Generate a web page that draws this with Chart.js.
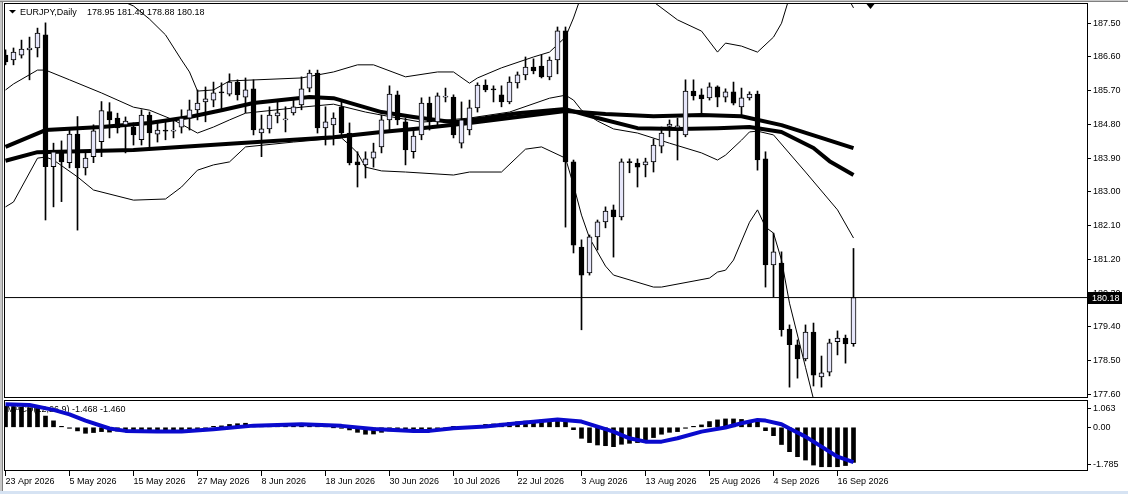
<!DOCTYPE html>
<html>
<head>
<meta charset="utf-8">
<script src="https://cdn.jsdelivr.net/npm/chart.js@4.4.1/dist/chart.umd.min.js"></script>
<style>
  html, body { margin: 0; padding: 0; background: #fff; }
  body { width: 1128px; height: 494px; position: relative; overflow: hidden; }
  #main { position: absolute; left: 0; top: 0; }
  #macd { position: absolute; left: 0; top: 400px; }
  .edgeL { position: absolute; left: 0; top: 0; width: 2px; height: 491px; background: #c8c8c8; border-right: 1px solid #808080; }
  .edgeT { position: absolute; left: 0; top: 0; width: 1128px; height: 1px; background: #c8c8c8; border-bottom: 1px solid #808080; }
  .strip { position: absolute; left: 0; top: 491px; width: 1128px; height: 3px; background: #d6e3f3; }
</style>
</head>
<body>
<canvas id="main" width="1128" height="400"></canvas>
<canvas id="macd" width="1128" height="94"></canvas>
<div class="edgeL"></div><div class="edgeT"></div><div class="strip"></div>
<script>
// EURJPY daily bars, index 0 = 23 Apr 2026
var opens = [186.65,186.52,186.65,186.79,186.84,187.19,183.67,184.07,183.78,184.54,
  183.64,183.94,184.34,185.14,184.97,184.79,184.73,184.39,185.05,184.54,
  184.63,184.62,184.73,184.97,185.19,185.40,185.45,185.67,185.61,185.93,
  185.53,185.75,184.57,184.68,185.03,184.92,185.11,185.32,185.77,186.17,
  184.71,184.79,185.27,184.57,183.80,183.72,183.90,184.20,184.92,185.59,
  184.87,184.07,184.52,185.37,184.87,185.53,185.53,184.30,184.65,185.24,
  185.85,185.75,185.59,185.40,185.91,186.12,186.33,186.36,186.07,186.52,
  187.30,183.80,181.53,180.84,181.80,182.20,182.52,182.33,183.81,183.77,
  183.72,183.80,184.22,184.75,184.71,184.52,185.69,185.59,185.51,185.80,
  185.53,185.67,185.27,185.51,185.61,183.88,181.05,181.10,179.34,178.92,
  178.54,179.26,178.06,178.19,179.00,179.10,178.95];
var highs = [186.79,186.84,187.05,187.13,187.37,187.51,184.30,184.36,184.70,185.01,
  184.04,184.79,185.41,185.38,185.10,185.00,184.84,185.19,185.13,184.84,
  184.92,184.92,185.19,185.45,185.72,185.80,185.93,185.91,186.15,185.99,
  186.04,185.99,185.05,185.27,185.40,185.27,185.45,186.07,186.25,186.25,
  185.27,185.11,185.40,184.84,184.07,184.07,184.30,185.05,185.83,185.69,
  184.97,184.71,185.51,185.53,185.64,185.77,185.59,185.40,185.45,185.91,
  185.99,185.83,185.83,186.07,186.20,186.60,186.55,186.65,186.60,187.40,
  187.40,183.85,181.72,181.85,182.25,182.60,182.65,183.88,183.88,183.88,
  183.90,184.41,184.73,184.92,184.97,185.99,185.99,185.75,185.91,185.83,
  185.75,185.93,185.77,185.67,185.69,184.07,181.90,181.40,179.45,179.05,
  179.45,179.50,178.62,179.07,179.29,179.18,181.49];
var lows = [186.39,186.39,186.57,185.99,186.60,182.25,182.60,182.74,183.64,181.98,
  183.45,183.78,183.94,184.44,184.57,184.04,184.25,184.25,184.17,184.33,
  184.39,184.44,184.57,184.65,184.92,184.87,185.27,185.19,185.56,185.45,
  185.11,184.52,183.94,184.57,184.84,184.60,185.05,185.19,185.67,184.57,
  184.25,184.25,184.52,183.72,183.13,183.37,183.66,184.04,184.65,184.79,
  183.72,183.90,184.39,184.65,184.79,185.40,184.44,184.17,184.52,185.13,
  185.67,185.40,185.27,185.35,185.77,185.99,186.15,186.04,185.99,186.15,
  182.06,181.37,179.32,180.78,181.45,182.04,181.26,182.25,183.51,183.13,
  183.40,183.53,184.04,184.47,183.85,184.47,185.45,185.11,185.45,185.27,
  185.40,185.32,185.05,185.45,183.58,180.46,180.20,179.15,177.79,178.03,
  178.49,177.82,177.79,178.09,178.65,178.43,178.88];
var closes = [186.47,186.73,186.81,186.84,187.24,183.67,184.07,183.80,184.54,183.64,
  183.90,184.63,185.17,184.92,184.71,184.89,184.52,185.05,184.57,184.65,
  184.62,184.63,184.97,185.19,185.37,185.48,185.64,185.64,185.93,185.59,
  185.72,184.65,184.68,185.05,185.11,184.94,185.27,185.75,186.17,184.71,
  184.87,184.97,184.57,183.77,183.72,183.88,184.07,184.92,185.61,184.92,
  184.12,184.49,185.37,184.87,185.56,185.54,184.52,184.92,185.24,185.85,
  185.72,185.72,185.40,185.93,186.12,186.33,186.23,186.07,186.52,187.30,
  183.80,181.58,180.78,181.80,182.20,182.49,182.33,183.80,183.78,183.66,
  183.80,184.25,184.57,184.81,184.76,185.69,185.56,185.48,185.80,185.53,
  185.67,185.37,185.51,185.61,183.85,181.05,181.40,179.32,178.92,178.54,
  179.26,178.11,178.17,178.97,179.10,178.94,180.18];

// moving averages and bollinger bands, [bar index, price]
var maFast = [[0,184.20],[5,184.65],[12,184.73],[18,184.84],[23,185.00],[27,185.18],[31,185.37],
  [38,185.53],[41,185.50],[47,185.13],[51,185.00],[56,184.86],[60,184.97],[64,185.10],[70,185.21],
  [74,184.97],[79,184.70],[84,184.68],[89,184.70],[93,184.73],[97,184.60],[101,184.17],[103,183.82],[106,183.45]];
var maSlow = [[0,183.83],[4,184.06],[16,184.12],[29,184.30],[41,184.46],[47,184.60],[52,184.70],
  [58,184.84],[64,185.00],[70,185.16],[75,185.08],[81,185.02],[87,185.05],[92,185.02],[97,184.78],
  [102,184.44],[106,184.17]];
var bbUpper = [[0,188.84],[4,188.60],[8,188.70],[12,188.33],[16,187.96],[18,187.61],[20,187.19],[22,186.52],
  [23,186.20],[24,185.69],[26,185.72],[28,185.96],[37,186.04],[41,186.20],[44,186.39],[46,186.39],
  [50,186.07],[54,186.20],[56,186.20],[58,185.90],[59,186.04],[62,186.31],[66,186.60],[68,186.73],
  [70,187.13],[71,187.64],[72,188.25],[75,188.45],[77,188.55],[79,188.45],[81,188.07],[84,187.59],
  [87,187.29],[89,186.73],[90,186.97],[92,186.89],[94,186.73],[96,187.13],[97,187.50],[98,188.20],
  [100,188.74],[101,189.13],[102,189.10],[104,188.74],[105,188.30],[106,187.91]];
var bbMiddle = [[0,185.72],[1,185.88],[4,186.25],[5,186.25],[8,185.99],[12,185.64],[16,185.26],[18,185.18],
  [21,184.92],[24,184.57],[26,184.73],[28,184.92],[30,185.10],[37,185.26],[41,185.34],[45,185.13],
  [47,185.05],[52,184.86],[58,184.97],[63,185.13],[68,185.50],[70,185.58],[71,185.45],[72,185.18],
  [74,184.89],[76,184.68],[79,184.57],[83,184.30],[87,184.04],[89,183.85],[90,183.98],[92,184.38],
  [93,184.60],[94,184.62],[96,184.52],[100,183.53],[104,182.52],[106,181.77]];
var bbLower = [[0,182.60],[1,182.73],[4,183.90],[5,183.93],[6,183.85],[9,183.40],[11,183.05],[16,182.78],
  [20,182.81],[22,183.13],[24,183.58],[26,183.72],[28,183.80],[30,184.20],[36,184.33],[42,184.44],
  [43,184.25],[44,184.04],[45,183.66],[47,183.56],[50,183.53],[56,183.45],[58,183.53],[62,183.53],
  [65,184.14],[67,184.20],[70,183.90],[71,183.18],[72,182.38],[73,181.77],[75,181.02],[76,180.78],
  [81,180.46],[82,180.46],[88,180.70],[89,180.86],[90,180.91],[91,181.18],[93,182.19],[94,182.52],
  [95,182.06],[96,181.90],[97,181.18],[98,180.03],[100,178.32],[101,177.47],[102,177.00],[104,176.30],[106,175.63]];

// MACD(12,26,9)
var macdMain = [0.88,0.87,0.85,0.82,0.79,0.47,0.27,0.03,-0.03,-0.15,-0.25,-0.22,-0.18,-0.20,-0.16,
  -0.13,-0.12,-0.12,-0.11,-0.11,-0.11,-0.10,-0.10,-0.09,-0.07,
  -0.03,0.01,0.06,0.12,0.15,0.17,0.10,0.06,0.05,0.04,0.05,
  0.03,0.04,0.05,0.03,0.01,0.00,-0.02,
  -0.11,-0.21,-0.29,-0.28,-0.21,-0.15,
  -0.11,-0.12,-0.12,-0.11,-0.10,-0.08,-0.03,
  0.02,0.03,0.04,0.05,
  0.12,0.14,0.17,0.20,0.23,0.26,0.28,0.30,0.32,0.35,
  0.31,-0.10,-0.46,-0.64,-0.74,-0.77,-0.81,-0.71,-0.67,-0.64,-0.57,-0.43,-0.29,-0.21,-0.18,
  -0.01,0.02,0.10,0.24,0.31,0.35,0.35,0.33,0.29,0.24,
  -0.14,-0.35,-0.72,-1.02,-1.23,-1.37,-1.58,-1.65,-1.65,-1.65,-1.60,-1.468];
var macdSignal = [[0,0.96],[3,0.93],[6,0.73],[8,0.54],[10,0.28],[13,-0.05],[15,-0.15],[19,-0.18],[22,-0.18],
  [26,-0.08],[31,0.07],[37,0.13],[42,0.06],[46,-0.07],[51,-0.15],[53,-0.15],[56,-0.04],[60,0.03],
  [64,0.17],[69,0.33],[72,0.24],[74,0.03],[76,-0.18],[78,-0.46],[80,-0.60],[82,-0.60],[84,-0.46],
  [87,-0.18],[90,-0.01],[92,0.17],[94,0.31],[95,0.28],[97,0.13],[98,-0.05],[100,-0.39],[102,-0.81],
  [104,-1.23],[106,-1.46]];

// axis labels
var dateLabels = ['23 Apr 2026','5 May 2026','15 May 2026','27 May 2026','8 Jun 2026','18 Jun 2026',
  '30 Jun 2026','10 Jul 2026','22 Jul 2026','3 Aug 2026','13 Aug 2026','25 Aug 2026','4 Sep 2026','16 Sep 2026'];
var dateTickIdx = [0,8,16,24,32,40,48,56,64,72,80,88,96,104];
var priceTicks = [177.60,178.50,179.40,180.30,181.20,182.10,183.00,183.90,184.80,185.70,186.60,187.50];
var macdTickText = ['1.063','0.00','-1.785'];
var macdTickAt = [0.795, 0, -1.536];   // MT4 draws the max/min labels inset from the panel edges

var symbolTitle = 'EURJPY,Daily';
var last = closes.length - 1;
var xMin = -0.1875, xMax = 135.3125;   // 8px per bar, empty shift area on the right
var shiftIdx = 108;

var FONT = '"Liberation Sans", Arial, sans-serif';
Chart.defaults.font.family = FONT;
Chart.defaults.font.size = 9;
Chart.defaults.color = '#000';

function pts(arr) { return arr.map(function (p) { return { x: p[0], y: p[1] }; }); }
function lineSet(arr, width, color, order) {
  return { type: 'line', data: pts(arr), borderColor: color, borderWidth: width, pointRadius: 0,
    fill: false, tension: 0, borderJoinStyle: 'round', order: order };
}

var frame = {
  id: 'frame',
  afterDraw: function (chart) {
    var a = chart.chartArea, c = chart.ctx;
    c.save();
    c.strokeStyle = '#000'; c.lineWidth = 1;
    c.strokeRect(a.left + 0.5, a.top + 0.5, a.right - a.left - 1, a.bottom - a.top - 1);
    c.restore();
  }
};

var mainDeco = {
  id: 'mainDeco',
  beforeDatasetsDraw: function (chart) {
    var c = chart.ctx;
    c.save();
    c.fillStyle = '#000';
    c.beginPath(); c.moveTo(9, 10); c.lineTo(16, 10); c.lineTo(12.5, 13.5); c.closePath(); c.fill();
    c.font = '9px ' + FONT; c.textBaseline = 'middle';
    c.fillText(symbolTitle, 20, 12.5);
    c.fillText([opens[last], highs[last], lows[last], closes[last]].map(function (v) { return v.toFixed(2); }).join(' '), 87, 12.5);
    c.restore();
  },
  afterDraw: function (chart) {
    var c = chart.ctx, a = chart.chartArea;
    var y = Math.round(chart.scales.y.getPixelForValue(closes[last]));
    c.save();
    c.fillStyle = '#000';
    c.fillRect(a.right, y - 6, 34, 12);
    c.fillStyle = '#fff'; c.font = '9px ' + FONT; c.textBaseline = 'middle';
    c.fillText(closes[last].toFixed(2), a.right + 4, y + 0.5);
    var sx = Math.round(chart.scales.x.getPixelForValue(shiftIdx)) + 0.5;
    c.fillStyle = '#000';
    c.beginPath(); c.moveTo(sx - 4, a.top + 1); c.lineTo(sx + 4, a.top + 1); c.lineTo(sx, a.top + 6); c.closePath(); c.fill();
    c.restore();
  }
};

var macdDeco = {
  id: 'macdDeco',
  beforeDatasetsDraw: function (chart) {
    var c = chart.ctx;
    c.save();
    c.fillStyle = '#000'; c.font = '9px ' + FONT; c.textBaseline = 'middle';
    c.fillText('MACD(12,26,9) ' + macdMain[last].toFixed(3) + ' ' + macdSignal[macdSignal.length - 1][1].toFixed(3), 7, 9.5);
    c.restore();
  }
};

var bullFill = '#e6e6fa';

new Chart(document.getElementById('main').getContext('2d'), {
  type: 'bar',
  data: {
    datasets: [
      { label: 'body', data: opens.map(function (o, i) { return { x: i, y: [o, closes[i]] }; }),
        backgroundColor: opens.map(function (o, i) { return closes[i] >= o ? bullFill : '#000'; }),
        borderColor: '#000', borderWidth: 1, borderSkipped: false, barThickness: 5, minBarLength: 1,
        grouped: false, order: 0 },
      { label: 'wick', data: lows.map(function (l, i) { return { x: i, y: [l, highs[i]] }; }),
        backgroundColor: '#000', borderWidth: 0, barThickness: 1, grouped: false, order: 1 },
      lineSet(maFast, 4, '#000', 2),
      lineSet(maSlow, 4, '#000', 2),
      lineSet(bbUpper, 1, '#000', 3),
      lineSet(bbMiddle, 1, '#000', 3),
      lineSet(bbLower, 1, '#000', 3),
      { type: 'line', data: [{ x: xMin, y: closes[last] }, { x: xMax, y: closes[last] }],
        borderColor: '#000', borderWidth: 1, pointRadius: 0, order: 4 }
    ]
  },
  options: {
    responsive: false, animation: false, devicePixelRatio: 1, events: [],
    layout: { padding: { left: 4, top: 3, right: 0, bottom: 2 } },
    plugins: { legend: { display: false }, tooltip: { enabled: false } },
    scales: {
      x: { type: 'linear', min: xMin, max: xMax, display: false, offset: false, grid: { offset: false } },
      y: { type: 'linear', position: 'right', min: 177.50, max: 188.04, beginAtZero: false,
        afterBuildTicks: function (s) { s.ticks = priceTicks.map(function (v) { return { value: v }; }); },
        afterFit: function (s) { s.width = 40; s.paddingTop = 0; s.paddingBottom = 0; },
        grid: { drawOnChartArea: false, drawTicks: true, tickLength: 3, color: '#000' },
        border: { display: false },
        ticks: { padding: 2, color: '#000', font: { size: 9 }, callback: function (v) { return Number(v).toFixed(2); } } }
    }
  },
  plugins: [mainDeco, frame]
});

new Chart(document.getElementById('macd').getContext('2d'), {
  type: 'bar',
  data: {
    datasets: [
      { type: 'line', data: pts(macdSignal), borderColor: '#0a0acd', borderWidth: 4, pointRadius: 0,
        fill: false, tension: 0, borderJoinStyle: 'round', order: 0 },
      { data: macdMain.map(function (v, i) { return { x: i, y: v }; }), backgroundColor: '#000',
        borderWidth: 0, barThickness: 4, minBarLength: 1, grouped: false, order: 1 }
    ]
  },
  options: {
    responsive: false, animation: false, devicePixelRatio: 1, events: [],
    layout: { padding: { left: 4, top: 0, right: 0, bottom: 0 } },
    plugins: { legend: { display: false }, tooltip: { enabled: false } },
    scales: {
      x: { type: 'linear', min: xMin, max: xMax, offset: false,
        afterBuildTicks: function (s) { s.ticks = dateTickIdx.map(function (v) { return { value: v }; }); },
        afterFit: function (s) { s.height = 23; s.paddingLeft = 0; s.paddingRight = 0; },
        grid: { drawOnChartArea: false, drawTicks: true, tickLength: 5, color: '#000', offset: false },
        border: { display: false },
        ticks: { autoSkip: false, maxRotation: 0, minRotation: 0, align: 'start', padding: 0, color: '#000',
          font: { size: 9 }, callback: function (v, i) { return dateLabels[i]; } } },
      y: { type: 'linear', position: 'right', min: -1.828, max: 1.142, beginAtZero: false,
        afterBuildTicks: function (s) { s.ticks = macdTickAt.map(function (v) { return { value: v }; }); },
        afterFit: function (s) { s.width = 40; s.paddingTop = 0; s.paddingBottom = 0; },
        grid: { drawOnChartArea: false, drawTicks: true, tickLength: 3, color: '#000' },
        border: { display: false },
        ticks: { padding: 2, color: '#000', font: { size: 9 }, callback: function (v, i) { return macdTickText[i]; } } }
    }
  },
  plugins: [macdDeco, frame]
});
</script>
</body>
</html>
